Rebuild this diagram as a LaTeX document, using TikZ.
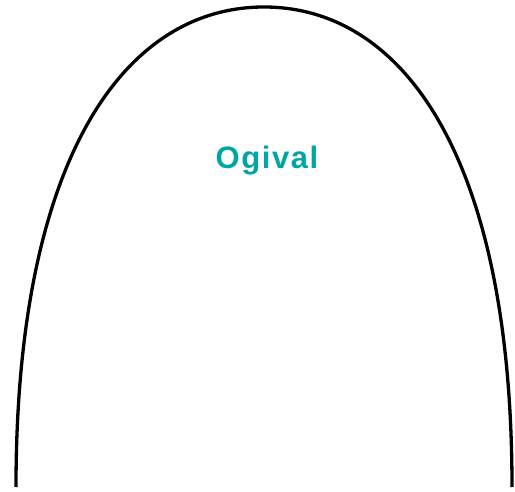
\documentclass[tikz,border=0pt]{standalone}
\usepackage{fontspec}
\newfontfamily\labelfont[LetterSpace=5]{Liberation Sans}
\definecolor{ogivalteal}{RGB}{0,166,166}

\begin{document}
\begin{tikzpicture}[x=1pt, y=1pt]

    % ---------- 画布范围 ----------
    \useasboundingbox (0,0) rectangle (515,491);

    % ---------- 拱形轮廓 ----------
    \draw[line width=3.3pt]
        (16,4) .. controls (16,334) and (125,484) .. (264,484)
               .. controls (403,484) and (512,334) .. (512,4);

    % ---------- 标签 ----------
    \node[text=ogivalteal, font={\labelfont\bfseries\fontsize{31}{35}\selectfont}]
        (ogival) at (267,330) {Ogival};

\end{tikzpicture}
\end{document}
